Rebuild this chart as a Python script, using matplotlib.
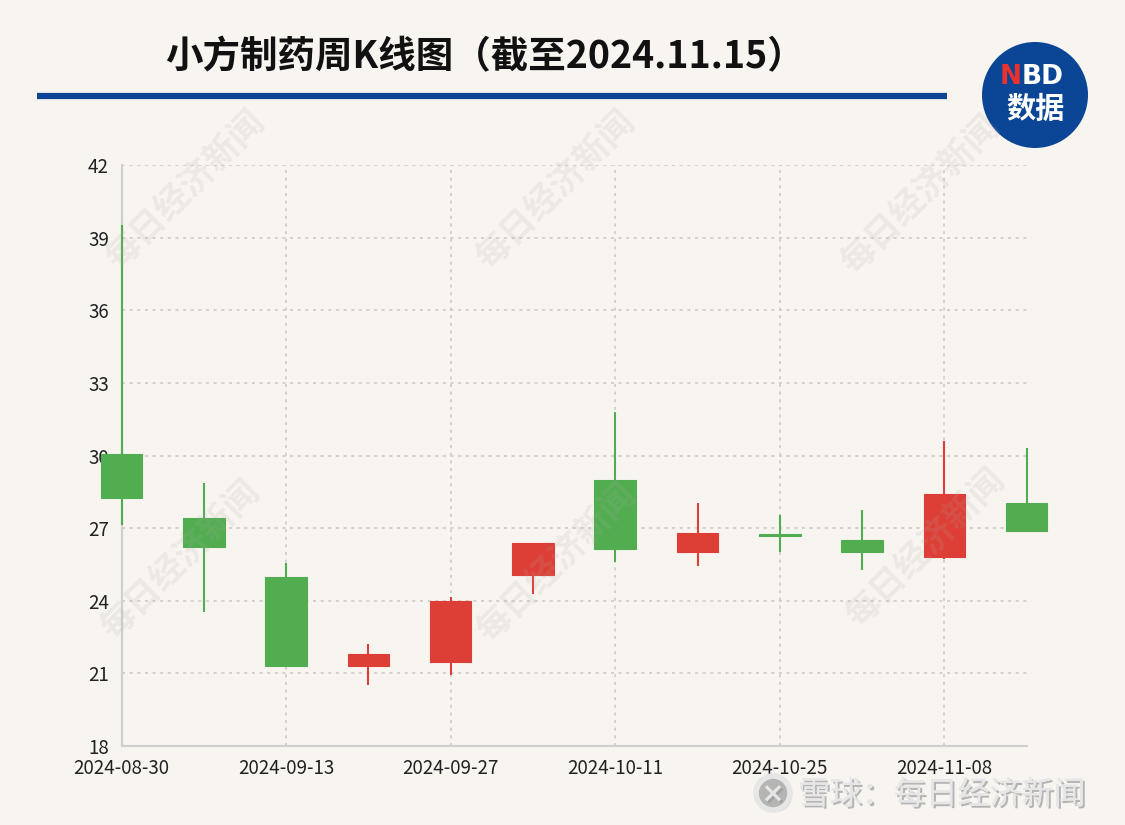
import matplotlib
matplotlib.use('Agg')
import matplotlib.pyplot as plt
from matplotlib.patches import Ellipse
import matplotlib.patheffects as pe

plt.rcParams['font.family'] = ['Noto Sans CJK SC', 'DejaVu Sans']

# 周K线数据（截至2024.11.15）
dates = ['2024-08-30', '2024-09-06', '2024-09-13', '2024-09-20', '2024-09-27', '2024-10-04',
         '2024-10-11', '2024-10-18', '2024-10-25', '2024-11-01', '2024-11-08', '2024-11-15']
opens = [30.05, 27.43, 24.99, 21.31, 21.49, 25.06, 28.98, 26.00, 26.72, 26.52, 25.82, 28.05]
closes = [28.24, 26.23, 21.31, 21.81, 23.97, 26.37, 26.12, 26.79, 26.67, 26.00, 28.39, 26.89]
highs = [39.52, 28.87, 25.57, 22.22, 24.16, 26.37, 31.81, 28.02, 27.55, 27.74, 30.58, 30.31]
lows = [27.12, 23.53, 21.31, 20.51, 20.93, 24.26, 25.62, 25.42, 26.01, 25.25, 25.71, 26.89]
y_ticks = [18, 21, 24, 27, 30, 33, 36, 39, 42]

bg = '#f8f5f1'
red = '#dd3e35'
green = '#52ad50'

fig = plt.figure(figsize=(11.25, 8.25), dpi=100)
fig.patch.set_facecolor(bg)

# 水印
for cx, cy in [(185, 190), (555, 190), (920, 195), (180, 560), (556, 563), (925, 548)]:
    fig.text(cx / 1125, 1 - cy / 825, '每日经济新闻', rotation=45, fontsize=25,
             fontweight='bold', color='#b0aca6', alpha=0.16, ha='center', va='center')

ax = fig.add_axes([121.5 / 1125, 1 - 746 / 825, (1026.7 - 121.5) / 1125, (746 - 165) / 825])
ax.set_facecolor('none')

x = list(range(len(dates)))
for i in x:
    o, c, h, l = opens[i], closes[i], highs[i], lows[i]
    col = red if c >= o else green
    ax.vlines(i, l, h, color=col, linewidth=1.5, clip_on=False, zorder=3)
    bottom = min(o, c)
    height = max(abs(c - o), 0.08)
    ax.bar(i, height, bottom=bottom, width=0.505, color=col,
           edgecolor=col, linewidth=0.8, clip_on=False, zorder=4)

ax.set_xlim(0, 11)
ax.set_ylim(18, 42)
ax.set_yticks(y_ticks)
ax.set_xticks(x[::2])
ax.set_xticklabels(dates[::2])

ax.grid(True, color='#c8c8c8', linestyle=(0, (2, 3)), linewidth=1.1)
ax.set_axisbelow(True)
for s in ['top', 'right']:
    ax.spines[s].set_visible(False)
for s in ['left', 'bottom']:
    ax.spines[s].set_color('#cfcfcf')
    ax.spines[s].set_linewidth(1.6)
ax.tick_params(axis='both', length=0, labelsize=13.5, colors='#222222')
ax.tick_params(axis='y', pad=9)
ax.tick_params(axis='x', pad=9)

# 标题
fig.text(485 / 1125, 1 - 57 / 825, '小方制药周K线图（截至2024.11.15）', fontsize=27,
         fontweight='bold', color='#111111', ha='center', va='center')
fig.add_artist(plt.Line2D([37 / 1125, 947 / 1125], [1 - 96 / 825, 1 - 96 / 825],
                          color='#0a4595', linewidth=4.5, solid_capstyle='butt'))

# NBD 数据 标志
fig.add_artist(Ellipse((1035 / 1125, 1 - 95 / 825), 106 / 1125, 106 / 825,
                       transform=fig.transFigure, facecolor='#0b4596', edgecolor='none'))
fig.text(1022 / 1125, 1 - 77 / 825, 'N', fontsize=19, fontweight='bold', color='#e8322f',
         ha='right', va='center', family='DejaVu Sans')
fig.text(1022 / 1125, 1 - 77 / 825, 'BD', fontsize=19, fontweight='bold', color='white',
         ha='left', va='center', family='DejaVu Sans')
fig.text(1035 / 1125, 1 - 109 / 825, '数据', fontsize=21, fontweight='bold', color='white',
         ha='center', va='center')

# 底部 雪球 水印
fig.add_artist(Ellipse((773 / 1125, 1 - 793 / 825), 34 / 1125, 34 / 825,
                       transform=fig.transFigure, facecolor='none', edgecolor='#e6e6e6',
                       linewidth=4,
                       path_effects=[pe.withSimplePatchShadow(offset=(1.5, -1.5), shadow_rgbFace='#9a9a9a', alpha=0.7)]))
fig.text(773 / 1125, 1 - 794 / 825, '×', fontsize=20, fontweight='bold', color='#e6e6e6',
         ha='center', va='center', family='DejaVu Sans',
         path_effects=[pe.withSimplePatchShadow(offset=(1.5, -1.5), shadow_rgbFace='#9a9a9a', alpha=0.7)])
t = fig.text(798 / 1125, 1 - 795 / 825, '雪球：每日经济新闻', fontsize=23, color='#e6e6e6',
             ha='left', va='center')
t.set_path_effects([pe.withSimplePatchShadow(offset=(1.5, -1.5), shadow_rgbFace='#9a9a9a', alpha=0.7),
                    pe.Normal()])

fig.savefig('out.png', dpi=100, facecolor=bg)
